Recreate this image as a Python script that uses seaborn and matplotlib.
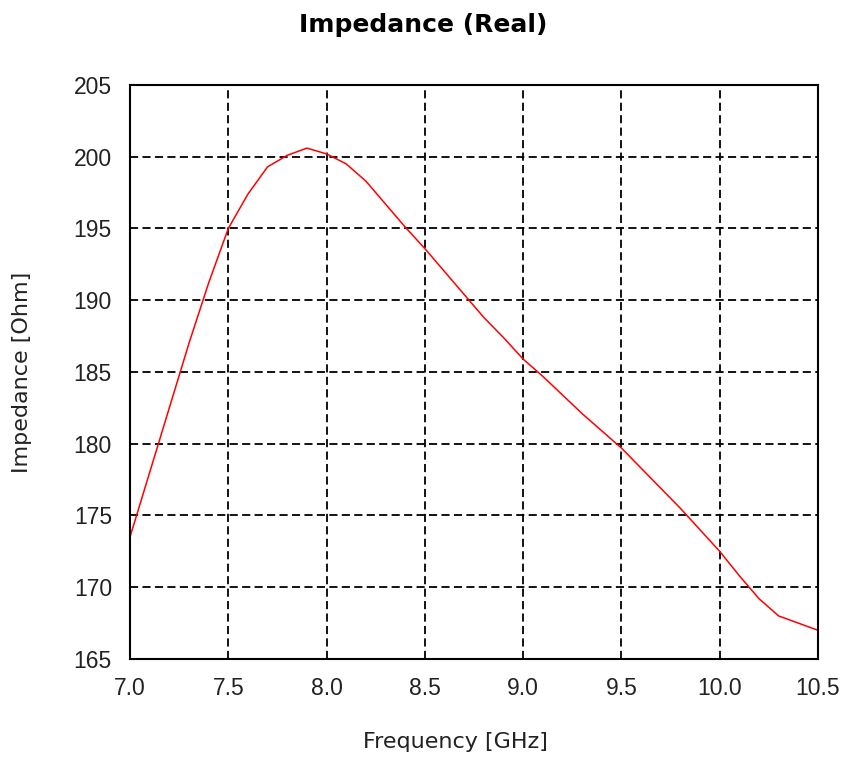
import matplotlib
matplotlib.use("Agg")
import matplotlib.pyplot as plt
import seaborn as sns
import pandas as pd

freq = [7.0, 7.1, 7.2, 7.3, 7.4, 7.5, 7.6, 7.7, 7.8, 7.9, 8.0, 8.1, 8.2, 8.3, 8.4,
        8.5, 8.6, 8.7, 8.8, 8.9, 9.0, 9.1, 9.2, 9.3, 9.4, 9.5, 9.6, 9.7, 9.8, 9.9,
        10.0, 10.1, 10.2, 10.3, 10.4, 10.5]
impedance = [173.5, 178.0, 182.5, 187.0, 191.2, 195.0, 197.4, 199.3, 200.1, 200.6,
             200.2, 199.5, 198.3, 196.7, 195.1, 193.6, 192.0, 190.4, 188.8, 187.4,
             185.9, 184.7, 183.4, 182.1, 180.9, 179.7, 178.3, 176.9, 175.5, 174.0,
             172.5, 170.8, 169.2, 168.0, 167.5, 167.0]
xticks = [7.0, 7.5, 8.0, 8.5, 9.0, 9.5, 10.0, 10.5]
yticks = [165, 170, 175, 180, 185, 190, 195, 200, 205]

df = pd.DataFrame({"Frequency [GHz]": freq, "Impedance [Ohm]": impedance})

sns.set_theme(style="white")
plt.rcParams['font.family'] = ['Liberation Sans', 'DejaVu Sans']

fig = plt.figure(figsize=(8.47, 7.61), dpi=100)
ax = fig.add_axes([130/847, 1-659/761, (818-130)/847, (659-85)/761])
sns.lineplot(data=df, x="Frequency [GHz]", y="Impedance [Ohm]", color="#ff0000",
             linewidth=1.1, ax=ax)
ax.set_xlim(7.0, 10.5)
ax.set_ylim(165, 205)
ax.set_xticks(xticks)
ax.set_xticklabels([f"{t:.1f}" for t in xticks])
ax.set_yticks(yticks)
ax.set_yticklabels([str(t) for t in yticks])
ax.grid(True, color="black", linestyle=(0, (4.5, 2.4)), linewidth=1.3)
for s in ax.spines.values():
    s.set_color("black")
    s.set_linewidth(1.5)
ax.tick_params(direction="in", length=4, colors="#222222", labelsize=16.5, pad=13)
ax.set_xlabel("Frequency [GHz]", fontsize=16, family=['DejaVu Sans'], color="#222222", va="center")
ax.set_ylabel("Impedance [Ohm]", fontsize=16, family=['DejaVu Sans'], color="#222222", va="center")
ax.xaxis.set_label_coords((455-130)/688, (659-742)/574)
ax.yaxis.set_label_coords((22-130)/688, 0.5)
fig.text(0.5, 1-25/761, "Impedance (Real)", fontsize=18, fontweight="bold",
         family=['DejaVu Sans'], ha="center", va="center", color="black")
fig.savefig("out.png", dpi=100, facecolor="white")
